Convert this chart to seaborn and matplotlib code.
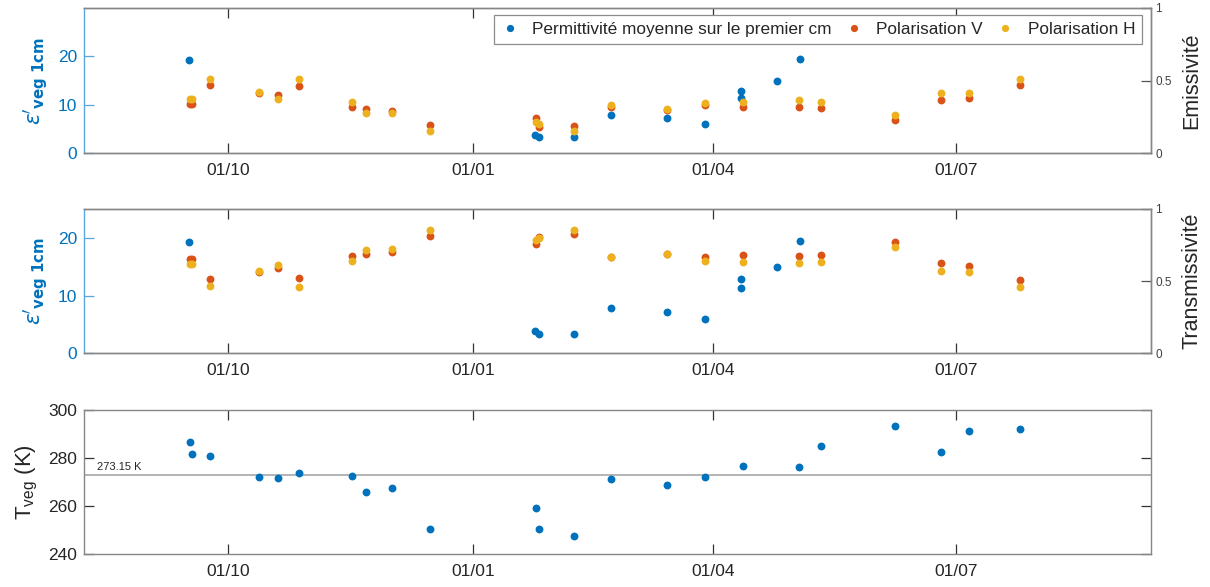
import numpy as np
import pandas as pd
import matplotlib
matplotlib.use("Agg")
import matplotlib.pyplot as plt
import matplotlib.dates as mdates
from matplotlib.lines import Line2D
import seaborn as sns

# ---------------- data ----------------
obs_dates = ["2017-09-16 16:00", "2017-09-17 10:00", "2017-09-24 09:00", "2017-10-12 12:00",
             "2017-10-19 16:00", "2017-10-27 18:00", "2017-11-16 13:00", "2017-11-21 16:00",
             "2017-12-01 16:00", "2017-12-15 19:00", "2018-01-24 14:00", "2018-01-25 17:00",
             "2018-02-07 17:00", "2018-02-21 17:00", "2018-03-14 17:00", "2018-03-28 17:00",
             "2018-04-12 00:00", "2018-05-02 22:00", "2018-05-11 05:00", "2018-06-08 00:00",
             "2018-06-25 05:00", "2018-07-05 22:00", "2018-07-24 22:00"]
t_veg = [286.8, 281.6, 280.9, 272.3, 271.6, 273.8, 272.7, 265.9, 267.4, 250.4, 259.3, 250.4,
         247.6, 271.2, 268.9, 272.3, 276.7, 276.2, 285.0, 293.5, 282.7, 291.3, 292.0]
emis_v = [0.339, 0.339, 0.468, 0.415, 0.397, 0.461, 0.318, 0.304, 0.290, 0.191, 0.242, 0.178,
          0.187, 0.320, 0.296, 0.328, 0.314, 0.318, 0.307, 0.226, 0.364, 0.380, 0.468]
emis_h = [0.369, 0.369, 0.509, 0.420, 0.373, 0.511, 0.350, 0.276, 0.276, 0.152, 0.214, 0.200,
          0.152, 0.330, 0.304, 0.346, 0.352, 0.364, 0.352, 0.265, 0.413, 0.417, 0.511]
trans_v = [0.651, 0.651, 0.513, 0.565, 0.589, 0.520, 0.676, 0.690, 0.702, 0.815, 0.757, 0.808,
           0.824, 0.665, 0.690, 0.665, 0.681, 0.674, 0.681, 0.769, 0.624, 0.607, 0.508]
trans_h = [0.617, 0.617, 0.466, 0.568, 0.612, 0.462, 0.642, 0.716, 0.723, 0.854, 0.785, 0.797,
           0.854, 0.665, 0.690, 0.642, 0.635, 0.628, 0.635, 0.734, 0.573, 0.566, 0.462]

perm_dates = ["2017-09-16 05:00", "2018-01-24 05:00", "2018-01-25 17:00", "2018-02-07 17:00",
              "2018-02-21 17:00", "2018-03-14 17:00", "2018-03-28 17:00", "2018-04-11 10:00",
              "2018-04-11 10:00", "2018-04-24 17:00", "2018-05-03 12:00"]
perm_vals = [19.3, 3.8, 3.35, 3.4, 7.85, 7.15, 5.9, 12.85, 11.3, 15.0, 19.5]

legend_labels = ["Permittivité moyenne sur le premier cm", "Polarisation V", "Polarisation H"]
xtick_dates = ["2017-10-01", "2018-01-01", "2018-04-01", "2018-07-01"]
x_limits = ["2017-08-08", "2018-09-12 02:00"]
freezing = 273.15

obs = pd.DataFrame({"date": pd.to_datetime(obs_dates), "T": t_veg,
                    "ev": emis_v, "eh": emis_h, "tv": trans_v, "th": trans_h})
perm = pd.DataFrame({"date": pd.to_datetime(perm_dates), "eps": perm_vals})

# ---------------- style ----------------
sns.set_theme(style="white")
plt.rcParams["font.family"] = ["Liberation Sans", "DejaVu Sans"]
plt.rcParams["mathtext.fontset"] = "dejavusans"

BLUE = "#0072BD"
RED = "#D95319"
YELLOW = "#EDB120"
SPINE = "#868686"
LBLUE = "#5AA6DE"
TXT = "#262626"
S = 32

fig = plt.figure(figsize=(12.1, 5.87), dpi=100)
L, W = 84 / 1210, 1067 / 1210
ax1 = fig.add_axes([L, 1 - 153 / 587, W, 145 / 587])
ax2 = fig.add_axes([L, 1 - 353.3 / 587, W, 144.3 / 587])
ax3 = fig.add_axes([L, 1 - 554.3 / 587, W, 144.3 / 587])

xlim = [pd.Timestamp(x_limits[0]), pd.Timestamp(x_limits[1])]
xticks = pd.to_datetime(xtick_dates)


def style_x(ax):
    ax.set_xlim(*xlim)
    ax.set_xticks(xticks)
    ax.xaxis.set_major_formatter(mdates.DateFormatter("%d/%m"))
    ax.tick_params(axis="x", direction="in", length=7, width=0.9, color="#333333",
                   top=True, bottom=True, labelsize=12.5, labelcolor=TXT, pad=7)
    ax.set_xlabel("")


def dual_panel(ax, ylim_left, col_v, col_h, right_label, legend=False):
    sns.scatterplot(data=perm, x="date", y="eps", ax=ax, color=BLUE, s=S,
                    linewidth=0, legend=False, zorder=3)
    ax.set_ylim(*ylim_left)
    ax.set_yticks([0, 10, 20])
    ax.tick_params(axis="y", direction="in", length=7, width=0.9, color=LBLUE,
                   left=True, right=False, labelsize=12.5, labelcolor=BLUE, pad=5)
    ax.set_ylabel(r"$\epsilon\mathbf{'}_{\mathbf{veg\ 1cm}}$", color=BLUE, fontsize=15.5)
    ax.yaxis.label.set_va("center")
    ax.yaxis.set_label_coords(-0.045, 0.5)
    style_x(ax)
    tw = ax.twinx()
    sns.scatterplot(data=obs, x="date", y=col_v, ax=tw, color=RED, s=S,
                    linewidth=0, legend=False, zorder=3)
    sns.scatterplot(data=obs, x="date", y=col_h, ax=tw, color=YELLOW, s=S,
                    linewidth=0, legend=False, zorder=4)
    tw.set_ylim(0, 1)
    tw.set_yticks([0, 0.5, 1])
    tw.set_yticklabels(["0", "0.5", "1"])
    tw.tick_params(axis="y", direction="in", length=7, width=0.9, color="#555555",
                   right=True, left=False, labelsize=8.5, labelcolor="#404040", pad=3)
    tw.set_ylabel(right_label, fontsize=15.5, color=TXT)
    tw.yaxis.label.set_va("center")
    tw.yaxis.set_label_coords(1.0384, 0.5)
    tw.set_xlim(*xlim)
    tw.set_xlabel("")
    for a in (ax, tw):
        for sp in ("top", "bottom", "right"):
            a.spines[sp].set_color(SPINE)
            a.spines[sp].set_linewidth(1.0)
        a.spines["left"].set_color(LBLUE)
        a.spines["left"].set_linewidth(1.0)
    tw.spines["left"].set_visible(False)
    if legend:
        handles = [Line2D([], [], marker="o", ls="none", color=c, markersize=5.2,
                          markeredgewidth=0) for c in (BLUE, RED, YELLOW)]
        leg = tw.legend(handles, legend_labels, loc="upper right",
                        bbox_to_anchor=(0.9916, 0.95), ncol=3, frameon=True,
                        fancybox=False, edgecolor="#8c8c8c", facecolor="white",
                        framealpha=1, fontsize=12.4, borderaxespad=0, handlelength=1.0,
                        handletextpad=0.8, columnspacing=0.8, borderpad=0.4)
        leg.get_frame().set_linewidth(0.9)
        for t in leg.get_texts():
            t.set_color(TXT)
    return tw


dual_panel(ax1, (0, 30), "ev", "eh", "Emissivité", legend=True)
dual_panel(ax2, (0, 25), "tv", "th", "Transmissivité")

# bottom panel
ax3.axhline(freezing, color="#b3b3b3", lw=1.4, zorder=1)
sns.scatterplot(data=obs, x="date", y="T", ax=ax3, color=BLUE, s=S,
                linewidth=0, legend=False, zorder=3)
ax3.set_ylim(240, 300)
ax3.set_yticks([240, 260, 280, 300])
ax3.tick_params(axis="y", direction="in", length=7, width=0.9, color="#333333",
                left=True, right=True, labelsize=12.5, labelcolor=TXT, pad=5)
style_x(ax3)
ax3.set_ylabel(r"T$_{\mathregular{veg}}$ (K)", fontsize=16, color=TXT)
ax3.yaxis.label.set_va("center")
ax3.yaxis.set_label_coords(-0.053, 0.5)
ax3.text(0.012, freezing + 0.9, "273.15 K", transform=ax3.get_yaxis_transform(),
         fontsize=8, color=TXT, ha="left", va="bottom")
for sp in ax3.spines.values():
    sp.set_color(SPINE)
    sp.set_linewidth(1.0)

fig.savefig("out.png", dpi=100)
